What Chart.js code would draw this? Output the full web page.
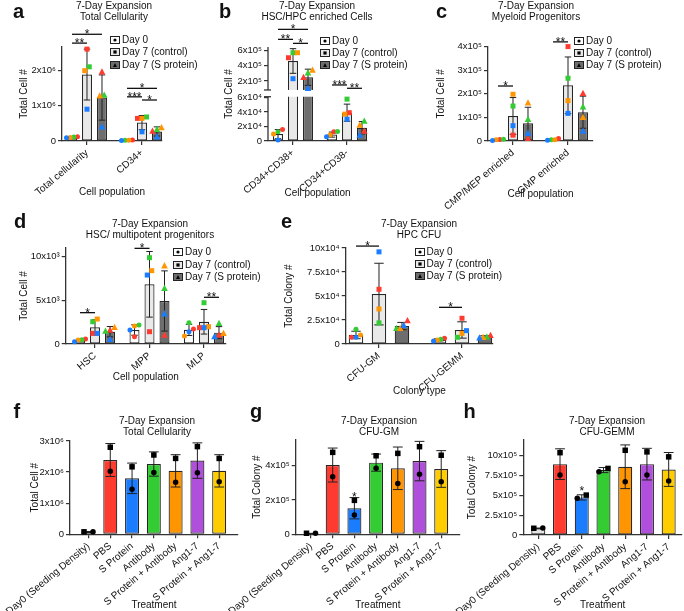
<!DOCTYPE html>
<html><head><meta charset="utf-8">
<script src="https://cdn.jsdelivr.net/npm/chart.js@4/dist/chart.umd.min.js"></script>
<style>
html,body{margin:0;padding:0;background:#fff}
#wrap{position:relative;width:684px;height:611px;overflow:hidden;font-family:"Liberation Sans",Arial,Helvetica,sans-serif;color:#111}
canvas{position:absolute;left:0;top:0}
.ttl{position:absolute;font-size:10px;line-height:11px;text-align:center;white-space:nowrap;transform:translateX(-50%)}
.let{position:absolute;font-size:20px;font-weight:bold;line-height:20px}
.lg{position:absolute;font-size:10px;white-space:nowrap}
.lg .row{height:12.3px;line-height:12px;display:flex;align-items:center}
.lg svg{margin-right:2px;flex:none}
</style></head><body><div id="wrap"></div>
<script>
// ================= DATA =================
const seriesNames = ['Day 0', 'Day 7 (control)', 'Day 7 (S protein)'];
// replicate order in every points list: [red, green, orange, blue]

// ---- a: Total Cellularity ----
const aCategories = ['Total cellularity', 'CD34+'];
const aDay0 = [0.105e6, 0.02e6];
const aCtrl = [1.88e6, 0.52e6];
const aSprot = [1.23e6, 0.27e6];
const aDay0Sd = [0.02e6, 0.006e6];
const aCtrlSd = [0.72e6, 0.2e6];
const aSprotSd = [0.64e6, 0.13e6];
const aDay0Pts = [[0.12e6, 0.11e6, 0.10e6, 0.09e6], [0.025e6, 0.02e6, 0.02e6, 0.015e6]];
const aCtrlPts = [[2.6e6, 2.1e6, 1.99e6, 0.9e6], [0.64e6, 0.68e6, 0.64e6, 0.26e6]];
const aSprotPts = [[1.96e6, 1.3e6, 1.28e6, 0.4e6], [0.28e6, 0.33e6, 0.38e6, 0.12e6]];
const aTicks = [0, 1e6, 2e6];
const aTickLabels = ['0', '1x10⁶', '2x10⁶'];
const aSig = [
  {cat: 0, from: 0, to: 1, v: 2.77e6, t: '**'},
  {cat: 0, from: 0, to: 2, v: 3.02e6, t: '*'},
  {cat: 1, from: 0, to: 2, v: 1.49e6, t: '*'},
  {cat: 1, from: 0, to: 1, v: 1.25e6, t: '***'},
  {cat: 1, from: 1, to: 2, v: 1.16e6, t: '*'}
];

// ---- b: HSC/HPC enriched Cells (broken axis) ----
const bCategories = ['CD34+CD38+', 'CD34+CD38-'];
const bDay0 = [0.95e4, 0.88e4];
const bCtrl = [4.64e5, 3.9e4];
const bSprot = [2.49e5, 1.83e4];
const bDay0Sd = [0.63e4, 0.35e4];
const bCtrlSd = [1.63e5, 1.18e4];
const bSprotSd = [1.07e5, 0.86e4];
const bDay0Pts = [[1.6e4, 1.28e4, 0.96e4, 0.14e4], [1.28e4, 1.3e4, 0.82e4, 0.6e4]];
const bCtrlPts = [[5.07e5, 5.73e5, 5.73e5, 2.3e5], [3.9e4, 5.77e4, 3.7e4, 3.0e4]];
const bSprotPts = [[2.49e5, 3.09e5, 3.45e5, 1.03e5], [1.37e4, 2.75e4, 2.2e4, 0.82e4]];
const bTicks = [0, 2e4, 4e4, 6e4, 2e5, 4e5, 6e5];
const bTickLabels = ['0', '2x10⁴', '4x10⁴', '6x10⁴', '2x10⁵', '4x10⁵', '6x10⁵'];
const bBreak = {lowMax: 6.1e4, highMin: 0.81e5};
const bSig = [
  {cat: 0, from: 0, to: 2, v: 8.82e5, t: '*'},
  {cat: 0, from: 0, to: 1, v: 7.5e5, t: '**'},
  {cat: 0, from: 1, to: 2, v: 6.97e5, t: '*'},
  {cat: 1, from: 0, to: 1, v: 1.47e5, t: '***'},
  {cat: 1, from: 1, to: 2, v: 1.03e5, t: '**'}
];

// ---- c: Myeloid Progenitors ----
const cCategories = ['CMP/MEP enriched', 'GMP enriched'];
const cDay0 = [0.05e5, 0.07e5];
const cCtrl = [1.06e5, 2.36e5];
const cSprot = [0.75e5, 1.22e5];
const cDay0Sd = [0.025e5, 0.035e5];
const cCtrlSd = [0.78e5, 1.2e5];
const cSprotSd = [0.68e5, 0.68e5];
const cDay0Pts = [[0.06e5, 0.07e5, 0.05e5, 0.02e5], [0.11e5, 0.05e5, 0.05e5, 0.03e5]];
const cCtrlPts = [[0.25e5, 1.48e5, 1.98e5, 0.65e5], [4.0e5, 2.66e5, 1.71e5, 1.17e5]];
const cSprotPts = [[0.11e5, 0.92e5, 1.62e5, 0.33e5], [2.02e5, 1.45e5, 1.0e5, 0.42e5]];
const cTicks = [0, 1e5, 2e5, 3e5, 4e5];
const cTickLabels = ['0', '1x10⁵', '2x10⁵', '3x10⁵', '4x10⁵'];
const cSig = [
  {cat: 0, from: 0, to: 1, v: 2.33e5, t: '*'},
  {cat: 1, from: 0, to: 1, v: 4.2e5, t: '**'}
];

// ---- d: HSC / multipotent progenitors ----
const dCategories = ['HSC', 'MPP', 'MLP'];
const dDay0 = [0.45e3, 1.6e3, 1.62e3];
const dCtrl = [1.91e3, 6.84e3, 2.55e3];
const dSprot = [1.41e3, 4.93e3, 1.3e3];
const dDay0Sd = [0.13e3, 0.6e3, 0.64e3];
const dCtrlSd = [0.87e3, 3.76e3, 1.41e3];
const dSprotSd = [0.59e3, 3.45e3, 0.69e3];
const dDay0Pts = [[0.57e3, 0.5e3, 0.45e3, 0.27e3], [0.84e3, 2.17e3, 2.06e3, 1.6e3], [1.72e3, 2.44e3, 0.92e3, 1.41e3]];
const dCtrlPts = [[1.22e3, 2.55e3, 2.86e3, 1.22e3], [1.41e3, 9.89e3, 8.4e3, 7.9e3], [1.87e3, 4.73e3, 1.98e3, 1.87e3]];
const dSprotPts = [[1.6e3, 1.49e3, 1.91e3, 0.54e3], [1.03e3, 6.38e3, 8.97e3, 3.47e3], [1.03e3, 2.37e3, 1.22e3, 0.84e3]];
const dTicks = [0, 5e3, 10e3];
const dTickLabels = ['0', '5x10³', '10x10³'];
const dSig = [
  {cat: 0, from: 0, to: 1, v: 3.59e3, t: '*'},
  {cat: 1, from: 0, to: 1, v: 10.96e3, t: '*'},
  {cat: 2, from: 1, to: 2, v: 5.35e3, t: '**'}
];

// ---- e: HPC CFU ----
const eCategories = ['CFU-GM', 'CFU-GEMM'];
const eDay0 = [0.94e4, 0.45e4];
const eCtrl = [5.2e4, 1.46e4];
const eSprot = [1.87e4, 0.75e4];
const eDay0Sd = [0.39e4, 0.12e4];
const eCtrlSd = [3.21e4, 0.85e4];
const eSprotSd = [0.38e4, 0.11e4];
const eDay0Pts = [[0.7e4, 1.53e4, 0.94e4, 0.7e4], [0.59e4, 0.5e4, 0.42e4, 0.31e4]];
const eCtrlPts = [[5.7e4, 2.2e4, 3.65e4, 9.6e4], [2.68e4, 0.7e4, 1.11e4, 1.39e4]];
const eSprotPts = [[2.43e4, 1.63e4, 1.63e4, 1.95e4], [0.9e4, 0.75e4, 0.7e4, 0.65e4]];
const eTicks = [0, 2.5e4, 5e4, 7.5e4, 10e4];
const eTickLabels = ['0', '2.5x10⁴', '5x10⁴', '7.5x10⁴', '10x10⁴'];
const eSig = [
  {cat: 0, from: 0, to: 1, v: 10.2e4, t: '*'},
  {cat: 1, from: 0, to: 1, v: 3.82e4, t: '*'}
];

// ---- f, g, h: treatments ----
const treatments = ['Day0 (Seeding Density)', 'PBS', 'S Protein', 'Antibody', 'S Protein + Antibody', 'Ang1-7', 'S Protein + Ang1-7'];
const fMeans = [0.08e6, 2.39e6, 1.80e6, 2.26e6, 2.04e6, 2.37e6, 2.04e6];
const fSd = [0.01e6, 0.53e6, 0.49e6, 0.39e6, 0.52e6, 0.57e6, 0.52e6];
const fSquares = [0.08e6, 2.80e6, 2.17e6, 2.55e6, 2.44e6, 2.82e6, 2.44e6];
const fCircles = [0.08e6, 2.03e6, 1.45e6, 1.99e6, 1.67e6, 1.98e6, 1.69e6];
const fTicks = [0, 1e6, 2e6, 3e6];
const fTickLabels = ['0', '1x10⁶', '2x10⁶', '3x10⁶'];

const gMeans = [0.05e5, 4.04e5, 1.52e5, 4.18e5, 3.85e5, 4.27e5, 3.81e5];
const gSd = [0.005e5, 0.99e5, 0.62e5, 0.5e5, 1.24e5, 1.15e5, 1.07e5];
const gSquares = [0.06e5, 4.78e5, 1.98e5, 4.58e5, 4.72e5, 5.11e5, 4.61e5];
const gCircles = [0.06e5, 3.36e5, 1.13e5, 3.85e5, 2.97e5, 3.50e5, 3.07e5];
const gTicks = [0, 2e5, 4e5];
const gTickLabels = ['0', '2x10⁵', '4x10⁵'];
const gSig = [{cat: 2, from: 0, to: 0, v: 2.17e5, t: '*', noLine: true}];

const hMeans = [0.84e5, 8.95e5, 4.75e5, 8.2e5, 8.62e5, 8.95e5, 8.28e5];
const hSd = [0.04e5, 1.94e5, 0.33e5, 0.32e5, 2.76e5, 2.0e5, 2.14e5];
const hSquares = [0.85e5, 10.4e5, 5.04e5, 8.41e5, 10.7e5, 10.5e5, 9.87e5];
const hCircles = [0.9e5, 7.57e5, 4.63e5, 7.98e5, 6.72e5, 7.57e5, 6.81e5];
const hTicks = [0, 2.5e5, 5e5, 7.5e5, 10e5];
const hTickLabels = ['0', '2.5x10⁵', '5x10⁵', '7.5x10⁵', '10x10⁵'];
const hSig = [{cat: 2, from: 0, to: 0, v: 5.59e5, t: '*', noLine: true}];

// ================= STYLE =================
const FONT = '"Liberation Sans", Arial, Helvetica, sans-serif';
const AX = '#333333';
const TXT = '#111111';
const ROT = 40;
const seriesFills = ['#ffffff', '#e9e9e9', '#6e6e6e'];
const seriesShapes = ['circle', 'rect', 'triangle'];
const donorColors = ['#ff3b30', '#33cc33', '#ff9500', '#1a7cff'];
const treatmentFills = ['#e4e4e4', '#ff3b30', '#1a7cff', '#33cc33', '#ff9500', '#b04fdc', '#ffcc00'];

Chart.defaults.font.family = FONT;
Chart.defaults.font.size = 10;
Chart.defaults.color = TXT;

// broken linear scale for panel b
class BrokenScale extends Chart.LinearScale {
  getPixelForValue(v) {
    const lowFrac = 0.471, gapFrac = 0.072;
    let d;
    if (v <= bBreak.lowMax) d = v / bBreak.lowMax * lowFrac;
    else if (v >= bBreak.highMin) d = lowFrac + gapFrac + (v - bBreak.highMin) / (this.max - bBreak.highMin) * (1 - lowFrac - gapFrac);
    else d = lowFrac + (v - bBreak.lowMax) / (bBreak.highMin - bBreak.lowMax) * gapFrac;
    return this.getPixelForDecimal(d);
  }
}
BrokenScale.id = 'broken';
BrokenScale.defaults = Chart.LinearScale.defaults;
Chart.register(BrokenScale);

function seg(ctx, x1, y1, x2, y2) { ctx.beginPath(); ctx.moveTo(x1, y1); ctx.lineTo(x2, y2); ctx.stroke(); }

function drawMarker(ctx, shape, x, y, s, color) {
  ctx.fillStyle = color;
  ctx.beginPath();
  if (shape === 'circle') ctx.arc(x, y, s / 2, 0, Math.PI * 2);
  else if (shape === 'rect') ctx.rect(x - s / 2, y - s / 2, s, s);
  else { ctx.moveTo(x, y - s * 0.6); ctx.lineTo(x + s * 0.55, y + s * 0.45); ctx.lineTo(x - s * 0.55, y + s * 0.45); ctx.closePath(); }
  ctx.fill();
}

function placePoints(vals, ys, size, spread) {
  const items = vals.map((v, k) => ({k, v, py: ys.getPixelForValue(v), dx: 0}));
  const sorted = items.slice().sort((a, b) => a.py - b.py);
  const clusters = [];
  sorted.forEach(it => {
    const c = clusters[clusters.length - 1];
    if (c && Math.abs(it.py - c[c.length - 1].py) < size) c.push(it); else clusters.push([it]);
  });
  clusters.forEach(c => {
    c.sort((a, b) => a.v - b.v);
    const n = c.length;
    const sp = n <= 2 ? spread : Math.min(spread, 11 / (n - 1));
    c.forEach((it, j) => { it.dx = (j - (n - 1) / 2) * sp; });
  });
  return items;
}

function overlay(P) {
  return {
    id: 'overlay',
    afterDatasetsDraw(chart) {
      const ctx = chart.ctx, ys = chart.scales.y, ca = chart.chartArea;
      ctx.save();
      if (P.brk) {
        const yLo = ys.getPixelForValue(bBreak.lowMax), yHi = ys.getPixelForValue(bBreak.highMin);
        ctx.fillStyle = '#ffffff';
        ctx.fillRect(ca.left + 1, yHi, ca.right - ca.left + 4, yLo - yHi);
        ctx.strokeStyle = AX; ctx.lineWidth = 1.3;
        seg(ctx, ca.left, ca.bottom, ca.left, yLo);
        seg(ctx, ca.left, yHi, ca.left, ca.top);
        seg(ctx, ca.left - 4, yLo, ca.left + 3, yLo);
        seg(ctx, ca.left - 4, yHi, ca.left + 3, yHi);
      }
      // error bars
      ctx.strokeStyle = '#222'; ctx.lineWidth = 1;
      P.sd.forEach((sdArr, di) => {
        const meta = chart.getDatasetMeta(di);
        meta.data.forEach((bar, i) => {
          const m = P.series[di][i], s = sdArr[i];
          const yt = ys.getPixelForValue(m + s), yb = ys.getPixelForValue(Math.max(m - s, 0));
          const cw = bar.width * P.capFrac / 2;
          seg(ctx, bar.x, yt, bar.x, yb);
          seg(ctx, bar.x - cw, yt, bar.x + cw, yt);
          seg(ctx, bar.x - cw, yb, bar.x + cw, yb);
        });
      });
      // points
      P.pts.forEach((perCat, di) => {
        const meta = chart.getDatasetMeta(di);
        perCat.forEach((vals, i) => {
          const bar = meta.data[i];
          placePoints(vals, ys, P.msize, P.spread).forEach(it => {
            const sh = P.shapeOf(di, it.k);
            drawMarker(ctx, sh, bar.x + it.dx, it.py, sh === 'triangle' ? P.msize * 1.2 : P.msize, P.colorOf(di, it.k));
          });
        });
      });
      // significance
      ctx.strokeStyle = '#111'; ctx.lineWidth = 1.3; ctx.fillStyle = '#111';
      ctx.font = '12px ' + FONT; ctx.textAlign = 'center'; ctx.textBaseline = 'alphabetic';
      P.sig.forEach(s => {
        const x1 = chart.getDatasetMeta(s.from).data[s.cat].x;
        const x2 = chart.getDatasetMeta(s.to).data[s.cat].x;
        const yy = ys.getPixelForValue(s.v);
        if (!s.noLine) seg(ctx, x1, yy, x2, yy);
        ctx.fillText(s.t, (x1 + x2) / 2, yy + 4);
      });
      ctx.restore();
    }
  };
}

function makeChart(P) {
  const G = P.geo;
  const cv = document.createElement('canvas');
  cv.width = 684; cv.height = 611;
  document.getElementById('wrap').appendChild(cv);
  const datasets = P.series.map((vals, di) => ({
    data: vals.map((v, i) => ({x: i, y: v})),
    backgroundColor: P.fills[di],
    borderColor: '#262626', borderWidth: 1.2, borderSkipped: false,
    categoryPercentage: G.cp, barPercentage: G.bp
  }));
  return new Chart(cv, {
    type: 'bar',
    data: {datasets},
    options: {
      responsive: false, animation: false, events: [],
      layout: {padding: {left: 0, top: G.top, right: 684 - G.right, bottom: 0}},
      plugins: {legend: {display: false}, tooltip: {enabled: false}, title: {display: false}},
      scales: {
        x: {
          type: 'linear', min: G.xmin, max: G.xmax, offset: false,
          grid: {display: true, offset: false, drawOnChartArea: false, drawTicks: true, tickLength: 4, color: AX, lineWidth: 1.2},
          border: {display: true, color: AX, width: 1.3},
          ticks: {autoSkip: false, minRotation: ROT, maxRotation: ROT, padding: 2, color: TXT, font: {size: 10, family: FONT},
                  callback: v => P.cats[Math.round(v)]},
          afterBuildTicks: s => { s.ticks = P.cats.map((c, i) => ({value: i})); },
          afterFit: s => { s.height = 611 - G.bottom; s.paddingLeft = 0; s.paddingRight = 0; s.paddingTop = 0; s.paddingBottom = 0; },
          title: {display: true, text: P.xTitle, color: TXT, font: {size: 10, family: FONT, lineHeight: 1.2},
                  padding: {top: 0, bottom: 611 - G.xTitleY - 6}}
        },
        y: {
          type: P.brk ? 'broken' : 'linear', min: 0, max: G.ymax, bounds: 'data',
          grid: {display: true, drawOnChartArea: false, drawTicks: true, tickLength: 4, color: AX, lineWidth: 1.2},
          border: {display: !P.brk, color: AX, width: 1.3},
          ticks: {autoSkip: false, padding: 2, color: TXT, font: {size: 9.5, family: FONT}, callback: (v, i) => P.tickLabels[i]},
          afterBuildTicks: s => { s.ticks = P.ticks.map(v => ({value: v})); },
          afterFit: s => { s.width = G.left; s.paddingLeft = 0; s.paddingRight = 0; s.paddingTop = 0; s.paddingBottom = 0; },
          title: {display: true, text: P.yTitle, color: TXT, font: {size: 10, family: FONT, lineHeight: 1.2}, padding: {top: G.yTitleX - 6, bottom: 0}}
        }
      }
    },
    plugins: [overlay(P)]
  });
}

function groupPanel(geo, cats, means, sds, pts, ticks, tickLabels, sig, yTitle, xTitle, brk) {
  makeChart({
    geo, cats, series: means, sd: sds, pts, ticks, tickLabels, sig, yTitle, xTitle, brk,
    fills: seriesFills, capFrac: 0.65, msize: 5, spread: 4.5,
    shapeOf: (di) => seriesShapes[di], colorOf: (di, k) => donorColors[k]
  });
}

function treatPanel(geo, means, sd, squares, circles, ticks, tickLabels, sig, yTitle) {
  makeChart({
    geo, cats: treatments, series: [means], sd: [sd],
    pts: [treatments.map((t, i) => [squares[i], circles[i]])],
    ticks, tickLabels, sig, yTitle, xTitle: 'Treatment',
    fills: [treatmentFills], capFrac: 0.7, msize: 5.5, spread: 9,
    shapeOf: (di, k) => (k === 0 ? 'rect' : 'circle'), colorOf: () => '#000000'
  });
}

// ================= LAYOUT (pixels) =================
groupPanel({left: 62, top: 47, bottom: 141, right: 162, xmin: -0.4545, xmax: 1.364, cp: 0.818, bp: 0.667, ymax: 2.66e6, yTitleX: 24, xTitleY: 192},
  aCategories, [aDay0, aCtrl, aSprot], [aDay0Sd, aCtrlSd, aSprotSd], [aDay0Pts, aCtrlPts, aSprotPts], aTicks, aTickLabels, aSig, 'Total Cell #', 'Cell population', false);
groupPanel({left: 268, top: 47, bottom: 141, right: 367, xmin: -0.463, xmax: 1.370, cp: 0.833, bp: 0.667, ymax: 6.49e5, yTitleX: 229, xTitleY: 193},
  bCategories, [bDay0, bCtrl, bSprot], [bDay0Sd, bCtrlSd, bSprotSd], [bDay0Pts, bCtrlPts, bSprotPts], bTicks, bTickLabels, bSig, 'Total Cell #', 'Cell population', true);
groupPanel({left: 488, top: 46.6, bottom: 141, right: 593, xmin: -0.4545, xmax: 1.4545, cp: 0.818, bp: 0.667, ymax: 4e5, yTitleX: 441, xTitleY: 194},
  cCategories, [cDay0, cCtrl, cSprot], [cDay0Sd, cCtrlSd, cSprotSd], [cDay0Pts, cCtrlPts, cSprotPts], cTicks, cTickLabels, cSig, 'Total Cell #', 'Cell population', false);
groupPanel({left: 65.7, top: 248, bottom: 344, right: 226, xmin: -0.538, xmax: 2.404, cp: 0.826, bp: 0.667, ymax: 11e3, yTitleX: 24, xTitleY: 377.7},
  dCategories, [dDay0, dCtrl, dSprot], [dDay0Sd, dCtrlSd, dSprotSd], [dDay0Pts, dCtrlPts, dSprotPts], dTicks, dTickLabels, dSig, 'Total Cell #', 'Cell population', false);
groupPanel({left: 345.7, top: 248, bottom: 344, right: 493, xmin: -0.401, xmax: 1.3735, cp: 0.831, bp: 0.63, ymax: 1e5, yTitleX: 289, xTitleY: 391},
  eCategories, [eDay0, eCtrl, eSprot], [eDay0Sd, eCtrlSd, eSprotSd], [eDay0Pts, eCtrlPts, eSprotPts], eTicks, eTickLabels, eSig, 'Total Colony #', 'Colony type', false);
treatPanel({left: 70, top: 441, bottom: 534.3, right: 238, xmin: -0.849, xmax: 6.864, cp: 1, bp: 0.643, ymax: 3e6, yTitleX: 35, xTitleY: 605},
  fMeans, fSd, fSquares, fCircles, fTicks, fTickLabels, [], 'Total Cell #');
treatPanel({left: 295.7, top: 440, bottom: 534.3, right: 460, xmin: -0.705, xmax: 6.866, cp: 1, bp: 0.645, ymax: 5.5e5, yTitleX: 257.5, xTitleY: 605},
  gMeans, gSd, gSquares, gCircles, gTicks, gTickLabels, gSig, 'Total Colony #');
treatPanel({left: 523.3, top: 440, bottom: 535, right: 682, xmin: -0.690, xmax: 6.613, cp: 1, bp: 0.645, ymax: 12e5, yTitleX: 472.5, xTitleY: 605},
  hMeans, hSd, hSquares, hCircles, hTicks, hTickLabels, hSig, 'Total Colony #');

// ================= TEXT OVERLAYS =================
const wrap = document.getElementById('wrap');
function addDiv(cls, x, y, html) {
  const d = document.createElement('div');
  d.className = cls; d.style.left = x + 'px'; d.style.top = y + 'px'; d.innerHTML = html;
  wrap.appendChild(d);
}
function title(cx, y1, l1, l2) { addDiv('ttl', cx, y1 - 5.5, l1 + '<br>' + l2); }
title(114, 5.8, '7-Day Expansion', 'Total Cellularity');
title(317, 5.8, '7-Day Expansion', 'HSC/HPC enriched Cells');
title(536, 5.8, '7-Day Expansion', 'Myeloid Progenitors');
title(150, 223.3, '7-Day Expansion', 'HSC/ multipotent progenitors');
title(419, 223.3, '7-Day Expansion', 'HPC CFU');
title(157, 420, '7-Day Expansion', 'Total Cellularity');
title(379, 420, '7-Day Expansion', 'CFU-GM');
title(607, 420, '7-Day Expansion', 'CFU-GEMM');

[['a', 13, 1.4], ['b', 219, 1.4], ['c', 436, 1.4], ['d', 14, 210.8], ['e', 281, 211], ['f', 13.5, 401.4], ['g', 250, 401.4], ['h', 463.5, 401.4]]
  .forEach(([t, x, y]) => addDiv('let', x, y, t));

function icon(fill, shape) {
  const m = shape === 'circle' ? '<circle cx="5" cy="4" r="1.6" fill="#000"/>'
    : shape === 'rect' ? '<rect x="3.4" y="2.4" width="3.2" height="3.2" fill="#000"/>'
    : '<path d="M5 2.1 L7 5.9 L3 5.9 Z" fill="#000"/>';
  return '<svg width="10" height="8" viewBox="0 0 10 8"><rect x="0.5" y="0.5" width="9" height="7" fill="' + fill + '" stroke="#222"/>' + m + '</svg>';
}
function legend(x, y) {
  addDiv('lg', x, y - 6.15, seriesNames.map((n, i) => '<div class="row">' + icon(seriesFills[i], seriesShapes[i]) + '<span>' + n + '</span></div>').join(''));
}
legend(110, 40);
legend(320, 40.7);
legend(574, 40.7);
legend(173, 252.3);
legend(414.5, 251.7);
</script></body></html>
